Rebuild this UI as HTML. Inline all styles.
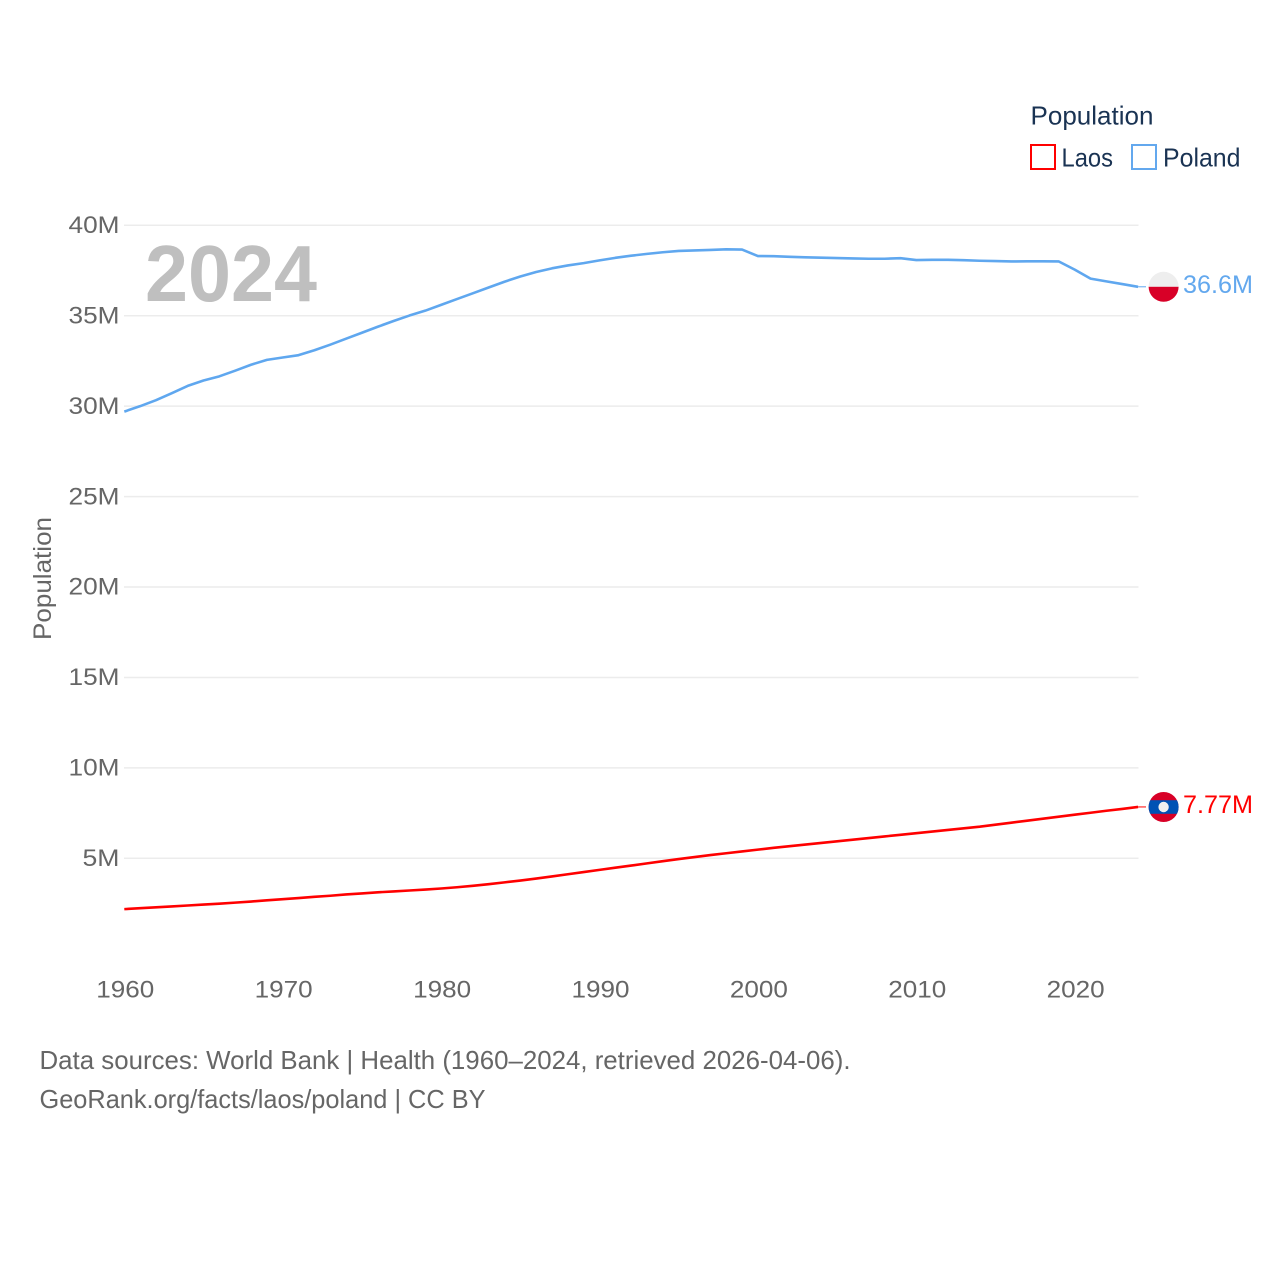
<!DOCTYPE html>
<html lang="en">
<head>
<meta charset="utf-8">
<title>Population: Laos and Poland</title>
<style>
html,body{margin:0;padding:0;background:#fff}
svg{display:block;font-family:"Liberation Sans",sans-serif}
</style>
</head>
<body>
<svg id="chart" width="1280" height="1280" viewBox="0 0 1280 1280" xmlns="http://www.w3.org/2000/svg">
  <rect x="0" y="0" width="1280" height="1280" fill="#fff"/>
  <g id="grid"></g>
  <g id="yticks"></g>
  <g id="xticks"></g>
  <text x="145" y="301" font-size="80" font-weight="bold" fill="#bfbfbf" textLength="172" lengthAdjust="spacingAndGlyphs">2024</text>
  <text transform="translate(51,578.5) rotate(-90)" text-anchor="middle" font-size="25" fill="#666" textLength="123" lengthAdjust="spacingAndGlyphs">Population</text>
  <g id="series"></g>

  <g>
    <clipPath id="clip-pl"><circle cx="1163.6" cy="286.8" r="15"/></clipPath>
    <g clip-path="url(#clip-pl)">
      <rect x="1148" y="271" width="31" height="16" fill="#eeeeee"/>
      <rect x="1148" y="286.8" width="31" height="16" fill="#d80027"/>
    </g>
  </g>
  <g>
    <clipPath id="clip-la"><circle cx="1163.6" cy="807" r="15"/></clipPath>
    <g clip-path="url(#clip-la)">
      <rect x="1148" y="791" width="31" height="32" fill="#d80027"/>
      <rect x="1148" y="800.2" width="31" height="13.6" fill="#0052b4"/>
      <circle cx="1163.6" cy="807" r="5.2" fill="#f0f0f0"/>
    </g>
  </g>
  <g id="endlabels"></g>

  <g>
    <text x="1030.5" y="124.5" font-size="26" fill="#1a3353" textLength="123" lengthAdjust="spacingAndGlyphs">Population</text>
    <g>
      <rect x="1031" y="145" width="24" height="24" fill="#fff" stroke="#ff0000" stroke-width="2"/>
      <text x="1061.5" y="166.5" font-size="26" fill="#1a3353" textLength="51.5" lengthAdjust="spacingAndGlyphs">Laos</text>
    </g>
    <g>
      <rect x="1132" y="145" width="24" height="24" fill="#fff" stroke="#63a8ee" stroke-width="2"/>
      <text x="1163" y="166.5" font-size="26" fill="#1a3353" textLength="77.5" lengthAdjust="spacingAndGlyphs">Poland</text>
    </g>
  </g>

  <text x="39.5" y="1069" font-size="26" fill="#666" textLength="811" lengthAdjust="spacingAndGlyphs">Data sources: World Bank | Health (1960–2024, retrieved 2026-04-06).</text>
  <text x="39.5" y="1108" font-size="26" fill="#666" textLength="446" lengthAdjust="spacingAndGlyphs">GeoRank.org/facts/laos/poland | CC BY</text>
</svg>
<script>
const firstYear = 1960;
const xTickYears = [1960, 1970, 1980, 1990, 2000, 2010, 2020];
const xTickLabels = ["1960", "1970", "1980", "1990", "2000", "2010", "2020"];
const yTickValues = [5, 10, 15, 20, 25, 30, 35, 40];
const yTickLabels = ["5M", "10M", "15M", "20M", "25M", "30M", "35M", "40M"];
const polandValues = [
  29.70, 30.00, 30.33, 30.72, 31.12, 31.42, 31.65, 31.96, 32.29, 32.56,
  32.69, 32.82, 33.09, 33.40, 33.73, 34.06, 34.39, 34.71, 35.01, 35.28,
  35.60, 35.92, 36.24, 36.56, 36.88, 37.17, 37.42, 37.62, 37.78, 37.91,
  38.06, 38.20, 38.32, 38.42, 38.51, 38.58, 38.61, 38.64, 38.67, 38.66,
  38.30, 38.29, 38.26, 38.23, 38.21, 38.19, 38.17, 38.15, 38.15, 38.18,
  38.08, 38.09, 38.09, 38.07, 38.04, 38.02, 38.00, 38.01, 38.01, 38.00,
  37.55, 37.05, 36.90, 36.75, 36.60
];
const laosValues = [
  2.19, 2.24, 2.29, 2.34, 2.39, 2.44, 2.49, 2.55, 2.61, 2.68,
  2.74, 2.80, 2.87, 2.93, 3.00, 3.06, 3.12, 3.17, 3.22, 3.27,
  3.33, 3.40, 3.48, 3.57, 3.67, 3.77, 3.88, 4.00, 4.12, 4.24,
  4.36, 4.48, 4.60, 4.72, 4.84, 4.96, 5.07, 5.18, 5.28, 5.38,
  5.48, 5.58, 5.67, 5.76, 5.85, 5.94, 6.03, 6.12, 6.21, 6.30,
  6.39, 6.48, 6.57, 6.66, 6.75, 6.86, 6.97, 7.08, 7.19, 7.30,
  7.41, 7.52, 7.63, 7.73, 7.84
];
const polandLabel = "36.6M";
const laosLabel = "7.77M";

const SVG_NS = "http://www.w3.org/2000/svg";
function xScale(year) { return 124.3 + (year - 1960) * 15.84; }
function yScale(value) { return 225.3 + (40 - value) * 18.086; }
function makeEl(tag, parent) {
  const el = document.createElementNS(SVG_NS, tag);
  parent.appendChild(el);
  return el;
}
function linePath(values) {
  return values.map(function (v, i) {
    return (i ? "L" : "M") + xScale(firstYear + i).toFixed(2) + " " + yScale(v).toFixed(2);
  }).join(" ");
}

const grid = document.getElementById("grid");
const yticks = document.getElementById("yticks");
const xticks = document.getElementById("xticks");
const series = document.getElementById("series");
const endlabels = document.getElementById("endlabels");
const xEnd = xScale(firstYear + polandValues.length - 1);

yTickValues.forEach(function (v, i) {
  const line = makeEl("line", grid);
  
  
  line.setAttribute("x1", 124);
  line.setAttribute("x2", 1138.5);
  line.setAttribute("y1", yScale(v));
  line.setAttribute("y2", yScale(v));
  line.setAttribute("stroke", "#ececec");
  line.setAttribute("stroke-width", "1.5");

  const label = makeEl("text", yticks);
  
  
  label.setAttribute("x", 119.5);
  label.setAttribute("y", yScale(v) + 7.7);
  label.setAttribute("text-anchor", "end");
  label.setAttribute("font-size", "24.5");
  label.setAttribute("fill", "#666");
  label.setAttribute("textLength", yTickLabels[i].length === 2 ? 37 : 51);
  label.setAttribute("lengthAdjust", "spacingAndGlyphs");
  label.textContent = yTickLabels[i];
});

xTickYears.forEach(function (year, i) {
  const label = makeEl("text", xticks);
  
  
  label.setAttribute("x", xScale(year) + 1);
  label.setAttribute("y", 997.5);
  label.setAttribute("text-anchor", "middle");
  label.setAttribute("font-size", "24.5");
  label.setAttribute("fill", "#666");
  label.setAttribute("textLength", 58);
  label.setAttribute("lengthAdjust", "spacingAndGlyphs");
  label.textContent = xTickLabels[i];
});

function drawSeries(values, color, name) {
  const path = makeEl("path", series);
  
  
  path.setAttribute("d", linePath(values));
  path.setAttribute("fill", "none");
  path.setAttribute("stroke", color);
  path.setAttribute("stroke-width", "2.6");
  path.setAttribute("stroke-linejoin", "round");

  const last = values[values.length - 1];
  const leader = makeEl("line", series);
  
  
  leader.setAttribute("x1", xEnd);
  leader.setAttribute("x2", 1146);
  leader.setAttribute("y1", yScale(last));
  leader.setAttribute("y2", yScale(last));
  leader.setAttribute("stroke", color);
  leader.setAttribute("stroke-width", "1");
}
drawSeries(laosValues, "#ff0000", "laos-line");
drawSeries(polandValues, "#5fa7ef", "poland-line");

function drawEndLabel(values, text, color, name) {
  const label = makeEl("text", endlabels);
  
  
  label.setAttribute("x", 1183);
  label.setAttribute("y", yScale(values[values.length - 1]) + 6);
  label.setAttribute("font-size", "25");
  label.setAttribute("fill", color);
  label.setAttribute("textLength", 70);
  label.setAttribute("lengthAdjust", "spacingAndGlyphs");
  label.textContent = text;
}
drawEndLabel(polandValues, polandLabel, "#63a8ee", "poland-value-label");
drawEndLabel(laosValues, laosLabel, "#ff0000", "laos-value-label");
</script>
</body>
</html>
